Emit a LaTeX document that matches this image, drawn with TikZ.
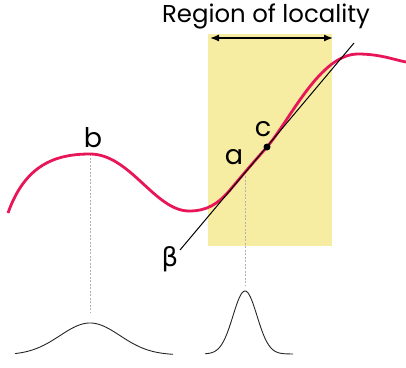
\documentclass[tikz,border=0pt]{standalone}
\usepackage{fontspec}
\setmainfont{Poppins}
\newfontfamily\greekfont{DejaVu Sans}
\usetikzlibrary{arrows.meta,positioning}
\definecolor{curvered}{RGB}{232,22,88}
\definecolor{regionyellow}{RGB}{246,236,162}

\begin{document}
\begin{tikzpicture}[
  x=1pt, y=-1pt,
  titletext/.style={font=\fontsize{24.4}{26}\selectfont, inner sep=0pt},
  labeltext/.style={font=\fontsize{27}{27}\selectfont, inner sep=0pt},
  curve/.style={draw=curvered, line width=2.8pt},
  tangent/.style={draw=black, line width=1pt},
  guide/.style={draw=gray!60, dash pattern=on 2pt off 1.5pt, line width=0.6pt},
  bell/.style={draw=black!85, line width=0.9pt},
  rangearrow/.style={{Latex[length=9pt,width=7pt]}-{Latex[length=9pt,width=7pt]},line width=1.4pt}
]
\useasboundingbox (0,0) rectangle (406,367);

% region of locality
\node[fill=regionyellow, anchor=north west, inner sep=0pt,
  minimum width=124pt, minimum height=212pt] (region) at (208,34) {};
\node[titletext] (title) at (266,16.5) {Region of locality};
\coordinate (arrowl) at (210,38);
\coordinate (arrowr) at (333,38);
\draw[rangearrow] (arrowl) -- (arrowr);

% points on the curve
\coordinate (start) at (8,213);
\coordinate (b) at (90,154);
\coordinate (trough) at (189,211);
\coordinate (touch) at (230,190);
\coordinate (a) at (244,174);
\coordinate (c) at (267,147);
\coordinate (crest) at (358,54);
\coordinate (end) at (406,62);

% peaks of the two bells
\coordinate (bpeak) at (90,312);
\coordinate (apeak) at (245,285);

\draw[guide] (b) -- (bpeak);
\draw[guide] (245,176) -- (apeak);

\draw[curve] (start) .. controls (25,165) and (55,154) .. (b)
  .. controls (130,154) and (155,211) .. (trough)
  .. controls (207,211) and (218,204) .. (touch)
  .. controls (250,166) and (260,155) .. (c)
  .. controls (290,120) and (320,54) .. (crest)
  .. controls (380,54) and (395,60) .. (end);

% tangent at a
\coordinate (tanlow) at (180,250);
\coordinate (tantop) at (354,43);
\draw[tangent] (tanlow) -- (tantop);
\node[circle, fill=black, inner sep=0pt, minimum size=7pt] (cdot) at (c) {};

% labels
\node[labeltext] (blabel) at (93,138) {b};
\node[labeltext] (alabel) at (234,157) {a};
\node[labeltext] (clabel) at (263,129) {c};
\node[labeltext, font=\greekfont\fontsize{26}{26}\selectfont] (betalabel) at (170,259) {β};

% the two bells
\draw[bell] plot[domain=15:173, samples=100] (\x,{355-32*exp(-((\x-90)/30)^2/2)});
\draw[bell] plot[domain=205:293, samples=100] (\x,{354-63*exp(-((\x-245)/12)^2/2)});
\end{tikzpicture}
\end{document}
